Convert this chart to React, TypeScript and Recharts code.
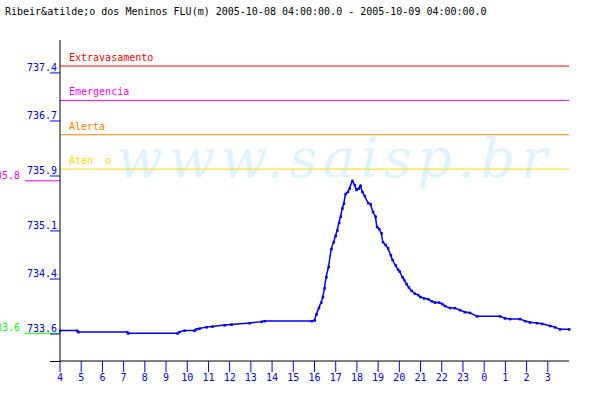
import React from 'react';
import { LineChart, Line, XAxis, YAxis, ReferenceLine } from 'recharts';

// hours since 2005-10-08 04:00 and level in metres
const hours = [
  0, 0.8, 0.85, 3.16, 3.21, 5.53, 5.62, 5.86, 6.33, 6.42, 6.57, 6.9, 7.18, 7.75, 8.08, 8.93, 9.49, 9.64,
  11.86, 12.0, 12.09, 12.2, 12.31, 12.39, 12.47, 12.55, 12.66, 12.79, 12.9, 12.99, 13.07, 13.15, 13.23,
  13.31, 13.38, 13.46, 13.57, 13.65, 13.78, 13.89, 13.97, 14.08, 14.16, 14.25, 14.36, 14.52, 14.64, 14.75,
  14.87, 14.94, 15.04, 15.15, 15.22, 15.34, 15.46, 15.59, 15.67, 15.82, 15.93, 16.01, 16.14, 16.22, 16.33,
  16.44, 16.57, 16.72, 16.88, 16.99, 17.16, 17.35, 17.51, 17.67, 17.86, 18.01, 18.14, 18.38, 18.61, 18.85,
  19.08, 19.32, 19.65, 20.74, 20.97, 21.21, 21.68, 21.92, 22.15, 22.48, 22.72, 23.1, 23.33, 23.57, 24.0,
];
const levels = [
  733.65, 733.65, 733.63, 733.63, 733.61, 733.61, 733.63, 733.65, 733.65, 733.67, 733.68, 733.7, 733.71,
  733.73, 733.74, 733.76, 733.78, 733.79, 733.79, 733.8, 733.89, 733.98, 734.06, 734.14, 734.27, 734.43,
  734.58, 734.84, 734.94, 735.03, 735.11, 735.22, 735.31, 735.43, 735.5, 735.64, 735.67, 735.72, 735.83,
  735.77, 735.7, 735.72, 735.76, 735.67, 735.61, 735.51, 735.49, 735.38, 735.31, 735.16, 735.13, 735.07,
  734.94, 734.9, 734.85, 734.75, 734.68, 734.6, 734.54, 734.51, 734.43, 734.39, 734.33, 734.28, 734.23,
  734.19, 734.17, 734.14, 734.12, 734.11, 734.08, 734.06, 734.06, 734.04, 734.01, 733.98, 733.98, 733.95,
  733.92, 733.91, 733.86, 733.86, 733.83, 733.82, 733.82, 733.79, 733.77, 733.76, 733.75, 733.72, 733.7,
  733.67, 733.67,
];

const hourTicks = [0, 1, 2, 3, 4, 5, 6, 7, 8, 9, 10, 11, 12, 13, 14, 15, 16, 17, 18, 19, 20, 21, 22, 23];
const hourLabels = ['4', '5', '6', '7', '8', '9', '10', '11', '12', '13', '14', '15', '16', '17', '18', '19', '20', '21', '22', '23', '0', '1', '2', '3'];
const levelTicks = [733.6, 734.4, 735.1, 735.9, 736.7, 737.4];

const alertNames = ['Extravasamento', 'Emergencia', 'Alerta', 'Aten\u00a0\u00a0o'];
const alertLevels = [737.5, 737.0, 736.5, 736.0];
const alertColors = ['#ff0000', '#ff00ff', '#ff8000', '#ffd800'];

const title = 'Ribeir&atilde;o dos Meninos FLU(m) 2005-10-08 04:00:00.0 - 2005-10-09 04:00:00.0';

const data = hours.map((h, i) => ({ h, v: levels[i] }));
const maxLevel = Math.max(...levels);
const minLevel = Math.min(...levels);

const mono = '"DejaVu Sans Mono", monospace';

const XTick = (props: any) => {
  const { x, y, payload } = props;
  return (
    <g>
      <line x1={x} y1={y} x2={x} y2={y + 11} stroke="#0000ff" />
      <text x={x} y={y + 20} textAnchor="middle" fill="#0000ff" fontSize={10} fontFamily={mono}>
        {hourLabels[hourTicks.indexOf(payload.value)]}
      </text>
    </g>
  );
};

const YTick = (props: any) => {
  const { x, y, payload } = props;
  return (
    <g>
      <line x1={x - 10} y1={y} x2={x} y2={y} stroke="#0000ff" />
      <text x={x - 3} y={y - 2} textAnchor="end" fill="#0000ff" fontSize={10} fontFamily={mono}>
        {payload.value.toFixed(1)}
      </text>
    </g>
  );
};

const AlertLabel = (props: any) => {
  const { viewBox, text, color } = props;
  return (
    <text x={viewBox.x + 9} y={viewBox.y - 5} fill={color} fontSize={10} fontFamily={mono}>
      {text}
    </text>
  );
};

// max / min markers drawn left of the value axis, as in the source
const SideMark = (props: any) => {
  const { x1, y1, color, text } = props;
  return (
    <g>
      <line x1={x1 - 35} y1={y1} x2={x1} y2={y1} stroke={color} />
      <text x={x1 - 40} y={y1 - 2} textAnchor="end" fill={color} fontSize={10} fontFamily={mono}>
        {text}
      </text>
    </g>
  );
};

const Dot = (props: any) => {
  const { cx, cy } = props;
  return <rect x={cx - 1} y={cy - 1} width={2.5} height={2.5} fill="#0000ff" />;
};

export default function App() {
  return (
    <div style={{ position: 'fixed', left: 0, top: 0, width: 600, height: 400, background: '#fff' }}>
      <svg width={600} height={400} style={{ position: 'absolute', left: 0, top: 0 }}>
        <text x={5} y={15} fontSize={10} fontFamily={mono} fill="#000">{title}</text>
        <text
          x={332}
          y={177}
          textAnchor="middle"
          fontSize={54}
          fontStyle="italic"
          fontFamily='"DejaVu Serif", serif'
          fill="#def3fd"
          textLength={430}
          lengthAdjust="spacing"
        >
          www.saisp.br
        </text>
        <line x1={50} y1={361.5} x2={61} y2={361.5} stroke="#000" />
      </svg>
      <div style={{ position: 'absolute', left: 0, top: 0 }}>
        <LineChart width={600} height={400} data={data} margin={{ top: 40, right: 31, bottom: 0, left: 0 }}>
          <XAxis
            type="number"
            dataKey="h"
            domain={[0, 24]}
            ticks={hourTicks}
            interval={0}
            height={39}
            axisLine={{ stroke: '#000' }}
            tickLine={false}
            tickSize={0}
            tickMargin={0}
            tick={<XTick />}
          />
          <YAxis
            type="number"
            domain={[733.207, 737.879]}
            allowDataOverflow
            ticks={levelTicks}
            interval={0}
            width={60}
            axisLine={{ stroke: '#000' }}
            tickLine={false}
            tickSize={0}
            tickMargin={0}
            tick={<YTick />}
          />
          {alertLevels.map((lv, i) => (
            <ReferenceLine
              key={alertNames[i]}
              y={lv}
              stroke={alertColors[i]}
              strokeWidth={1}
              label={<AlertLabel text={alertNames[i]} color={alertColors[i]} />}
            />
          ))}
          <ReferenceLine y={maxLevel} stroke="none" shape={<SideMark color="#ff00ff" text={maxLevel.toFixed(1)} />} />
          <ReferenceLine y={minLevel} stroke="none" shape={<SideMark color="#00ff00" text={minLevel.toFixed(1)} />} />
          <Line
            type="linear"
            dataKey="v"
            stroke="#0000ff"
            strokeWidth={1.5}
            dot={<Dot />}
            isAnimationActive={false}
          />
        </LineChart>
      </div>
    </div>
  );
}
